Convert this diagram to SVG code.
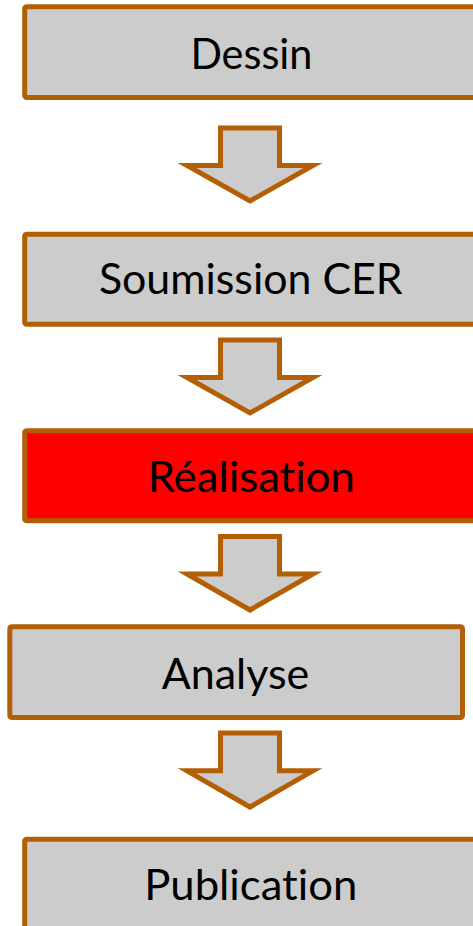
<svg xmlns="http://www.w3.org/2000/svg" width="473" height="926" viewBox="0 0 473 926">
  <style>
    .box { fill: #cccccc; stroke: #b45f06; stroke-width: 5; }
    .hl { fill: #ff0000; }
    .arrow { fill: #cccccc; stroke: #b45f06; stroke-width: 5; stroke-linejoin: miter; stroke-miterlimit: 10; }
    .lbl { font-family: Lato, "Liberation Sans", sans-serif; font-size: 43px; fill: #000000; text-anchor: middle; font-variant-ligatures: none; font-feature-settings: "liga" 0, "clig" 0; }
  </style>
  <rect width="473" height="926" fill="#ffffff"/>
  <g id="connectors">
    <polygon class="arrow" points="220.5,128 279.5,128 279.5,165.5 313,165.5 250,201 187,165.5 220.5,165.5"/>
    <polygon class="arrow" points="220.5,340 279.5,340 279.5,377.5 313,377.5 250,413 187,377.5 220.5,377.5"/>
    <polygon class="arrow" points="220.5,536.5 279.5,536.5 279.5,574 313,574 250,610 187,574 220.5,574"/>
    <polygon class="arrow" points="220.5,733 279.5,733 279.5,770.8 313,770.8 250,807 187,770.8 220.5,770.8"/>
  </g>
  <g id="dessin">
    <rect class="box" x="24.7" y="6.8" width="470" height="90.7" rx="2"/>
    <text class="lbl" x="251.4" y="69" textLength="122" lengthAdjust="spacingAndGlyphs">Dessin</text>
  </g>
  <g id="soumission">
    <rect class="box" x="24.7" y="234.2" width="470" height="90" rx="2"/>
    <text class="lbl" x="250.8" y="294" textLength="303.7" lengthAdjust="spacingAndGlyphs">Soumission CER</text>
  </g>
  <g id="realisation">
    <rect class="box hl" x="24.7" y="430.8" width="470" height="90" rx="2"/>
    <text class="lbl" x="251.3" y="491.7" textLength="207.3" lengthAdjust="spacingAndGlyphs">Réalisation</text>
  </g>
  <g id="analyse">
    <rect class="box" x="9.8" y="626.8" width="452.7" height="90.7" rx="2"/>
    <text class="lbl" x="235.5" y="689.3" textLength="147.7" lengthAdjust="spacingAndGlyphs">Analyse</text>
  </g>
  <g id="publication">
    <rect class="box" x="24.7" y="839.2" width="470" height="100" rx="2"/>
    <text class="lbl" x="250.8" y="900" textLength="213" lengthAdjust="spacingAndGlyphs">Publication</text>
  </g>
</svg>
